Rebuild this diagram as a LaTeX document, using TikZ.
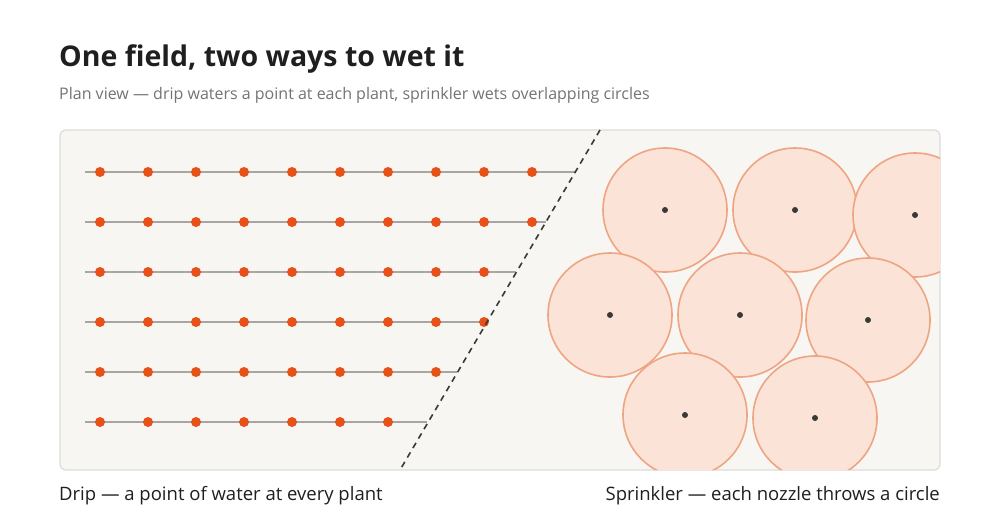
\documentclass[tikz,border=0pt]{standalone}
\usepackage{fontspec}
\setmainfont{Open Sans}
\definecolor{panelbg}{HTML}{F7F6F3}
\definecolor{panelrim}{HTML}{DEDCD8}
\definecolor{dripdot}{HTML}{E8501A}
\definecolor{pipe}{HTML}{A8A6A0}
\definecolor{wetfill}{HTML}{FBE3D8}
\definecolor{wetrim}{HTML}{EFA482}
\definecolor{ink}{HTML}{3A3A35}
\tikzset{
  emitter/.style={circle, fill=dripdot, inner sep=0pt, minimum size=10pt},
  nozzle/.style={circle, fill=ink, inner sep=0pt, minimum size=6pt},
  throw/.style={draw=wetrim, fill=wetfill, line width=1.6pt},
}
\begin{document}
\begin{tikzpicture}[x=1pt,y=-1pt]
\useasboundingbox (0,0) rectangle (1000,520);
\node[anchor=base west, inner sep=0pt, font=\bfseries\fontsize{28.5}{32}\selectfont, text=black!88] (title) at (59,66) {One field, two ways to wet it};
\node[anchor=base west, inner sep=0pt, font=\fontsize{16}{19}\selectfont, text=black!55] (sub) at (59,99) {Plan view — drip waters a point at each plant, sprinkler wets overlapping circles};

\draw[panelrim, fill=panelbg, line width=1.2pt, rounded corners=6pt] (60,130) rectangle (940,470);

% sprinkler side
\begin{scope}
\clip[rounded corners=6pt] (60,130) rectangle (940,470);
\foreach \cx/\cy [count=\i] in {665/210,795/210,915/215,610/315,740/315,868/320,685/415,815/418}{
  \draw[throw] (\cx,\cy) circle (62);
  \node[nozzle] (noz\i) at (\cx,\cy) {};
}
\end{scope}

% drip side
\foreach \y/\xend/\n [count=\r] in {172/575/10,222/546/10,272/516/9,322/486/9,372/457/8,422/427/7}{
  \draw[pipe, line width=1.6pt] (85,\y) -- (\xend,\y);
  \foreach \k in {1,...,\n}
    \node[emitter] (drip\r-\k) at ({100+48*(\k-1)},\y) {};
}
\draw[ink, line width=1.6pt, dash pattern=on 6pt off 5pt] (600,130) -- (400,470);

\node[anchor=base west, inner sep=0pt, font=\fontsize{18.5}{22}\selectfont, text=black!88] (dripcap) at (59,500) {Drip — a point of water at every plant};
\node[anchor=base east, inner sep=0pt, font=\fontsize{18.5}{22}\selectfont, text=black!88] (sprcap) at (940,500) {Sprinkler — each nozzle throws a circle};
\end{tikzpicture}
\end{document}
